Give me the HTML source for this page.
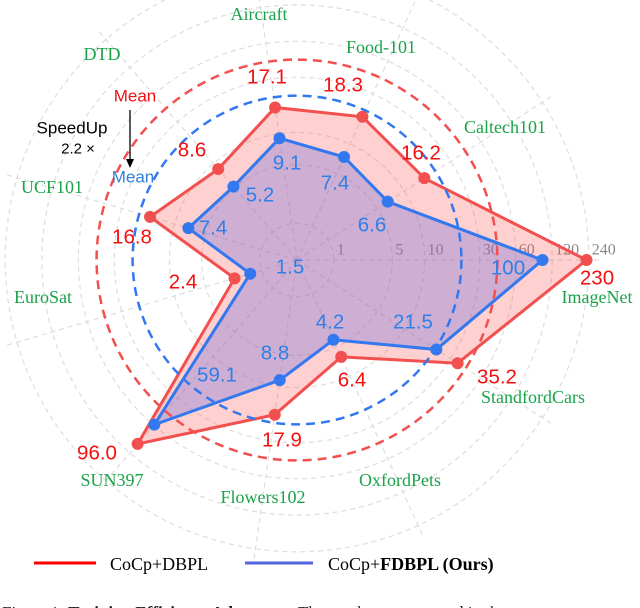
<!DOCTYPE html>
<html><head><meta charset="utf-8"><style>
html,body{margin:0;padding:0;background:#fff;width:640px;height:608px;overflow:hidden}
svg{display:block}
.val{font-family:"Liberation Sans",sans-serif;font-size:20.5px;text-anchor:middle;dominant-baseline:central}
.cat{font-family:"Liberation Serif",serif;font-size:18px;fill:#1aa34a;text-anchor:middle;dominant-baseline:central}
.tick{font-family:"Liberation Serif",serif;font-size:16px;fill:#888;dominant-baseline:central}
</style></head><body>
<svg id="chart" width="640" height="608" viewBox="0 0 640 608" xmlns="http://www.w3.org/2000/svg">
<g id="grid"></g>
<g id="series"></g>
<g id="labels"></g>
<g>
 <text x="135" y="96" class="val" style="font-size:17px" fill="#f01010">Mean</text>
 <text x="72" y="128" class="val" style="font-size:17px" fill="#000">SpeedUp</text>
 <text x="78" y="149" class="val" style="font-size:15px" fill="#000">2.2 ×</text>
 <line x1="130" y1="110" x2="130" y2="160" stroke="#000" stroke-width="1.3"/>
 <polygon points="126,159 134,159 130,168" fill="#000"/>
 <text x="133" y="177" class="val" style="font-size:17px" fill="#2f7fd8">Mean</text>
</g>
<g>
 <line x1="34" y1="563" x2="96" y2="563" stroke="#f00" stroke-width="3"/>
 <text x="110" y="564" font-family="Liberation Serif,serif" font-size="18" dominant-baseline="central">CoCp+DBPL</text>
 <line x1="245" y1="563" x2="313" y2="563" stroke="#5566dd" stroke-width="3"/>
 <text x="328" y="564" font-family="Liberation Serif,serif" font-size="18" dominant-baseline="central">CoCp+<tspan font-weight="bold">FDBPL (Ours)</tspan></text>
</g>
<text x="2" y="618" font-family="Liberation Serif,serif" font-size="17" fill="#222">Figure 1: <tspan font-weight="bold">Training Efficiency Advantage.</tspan> The results are averaged in the</text>
</svg>
<script>
const categories=["ImageNet","Caltech101","Food-101","Aircraft","DTD","UCF101","EuroSat","SUN397","Flowers102","OxfordPets","StandfordCars"];
const redValues=[230,16.2,18.3,17.1,8.6,16.8,2.4,96.0,17.9,6.4,35.2];
const blueValues=[100,6.6,7.4,9.1,5.2,7.4,1.5,59.1,8.8,4.2,21.5];
const redLabels=["230","16.2","18.3","17.1","8.6","16.8","2.4","96.0","17.9","6.4","35.2"];
const blueLabels=["100","6.6","7.4","9.1","5.2","7.4","1.5","59.1","8.8","4.2","21.5"];
const tickValues=[1,5,10,30,60,120,240];
const tickLabels=["1","5","10","30","60","120","240"];
// layout (not data)
const CX=297,CY=260,K=53.2;
const catPos=[[597,297],[505,127],[381,47],[259,14],[102,54],[52,187],[43,297],[112,480],[263,497],[400,480],[533,397]];
const redPos=[[597,278],[421,153],[343,85],[267,77],[192,150],[132,237],[183,282],[97,453],[282,440],[352,380],[497,377]];
const bluePos=[[508,268],[372,225],[335,183],[287,163],[260,195],[213,228],[290,267],[217,375],[275,353],[330,322],[413,322]];
const NS="http://www.w3.org/2000/svg";
function r(v){return K*Math.log(1+v);}
function ang(i){return i*2*Math.PI/categories.length;}
function pt(i,v){const a=ang(i),rr=r(v);return [CX+rr*Math.cos(a),CY-rr*Math.sin(a)];}
function mk(tag,attrs,parent){const e=document.createElementNS(NS,tag);for(const k in attrs)e.setAttribute(k,attrs[k]);parent.appendChild(e);return e;}
const grid=document.getElementById('grid'),ser=document.getElementById('series'),lab=document.getElementById('labels');
tickValues.forEach((t,i)=>{
 const c=mk('circle',{cx:CX,cy:CY,r:r(t),fill:'none',stroke:'#ddd','stroke-width':1.2,'stroke-dasharray':'5,4'},grid);
 
 
 const tx=mk('text',{x:CX+r(t)+3,y:CY-10,class:'tick'},grid);
 tx.textContent=tickLabels[i];
 
 
});
categories.forEach((c,i)=>{
 const p=pt(i,300);
 const l=mk('line',{x1:CX,y1:CY,x2:p[0],y2:p[1],stroke:'#ddd','stroke-width':1.2,'stroke-dasharray':'5,4'},grid);
 
 
});
function series(vals,fill,stroke,name){
 const pts=vals.map((v,i)=>pt(i,v));
 const pg=mk('polygon',{points:pts.map(p=>p.join(',')).join(' '),fill:fill,stroke:stroke,'stroke-width':3,'stroke-linejoin':'miter'},ser);
 
 
 pts.forEach(p=>{
  const d=mk('circle',{cx:p[0],cy:p[1],r:6,fill:stroke},ser);
  
  
 });
}
series(redValues,'rgba(250,80,80,0.27)','#f24f4f','dbpl');
series(blueValues,'rgba(110,110,220,0.33)','#3378ee','fdbpl');
const mean=a=>a.reduce((s,x)=>s+x,0)/a.length;
const mr=mk('circle',{cx:CX,cy:CY,r:r(mean(redValues)),fill:'none',stroke:'#f24f4f','stroke-width':2.5,'stroke-dasharray':'9,6'},ser);


const mb=mk('circle',{cx:CX,cy:CY,r:r(mean(blueValues)),fill:'none',stroke:'#3378ee','stroke-width':2.5,'stroke-dasharray':'9,6'},ser);


categories.forEach((c,i)=>{
 const t=mk('text',{x:catPos[i][0],y:catPos[i][1],class:'cat'},lab);t.textContent=c;
 
 
 const a=mk('text',{x:redPos[i][0],y:redPos[i][1],class:'val',fill:'#f50f0f'},lab);a.textContent=redLabels[i];
 
 
 const b=mk('text',{x:bluePos[i][0],y:bluePos[i][1],class:'val',fill:'#2f7fe8'},lab);b.textContent=blueLabels[i];
 
 
});
</script>
</body></html>
